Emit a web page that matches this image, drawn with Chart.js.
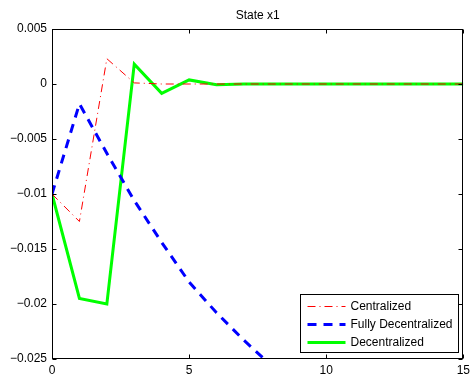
<!DOCTYPE html>
<html>
<head>
<meta charset="utf-8">
<script src="https://cdn.jsdelivr.net/npm/chart.js@4.4.1/dist/chart.umd.min.js"></script>
<style>
  html, body { margin: 0; padding: 0; background: #fff; }
  #wrap { width: 474px; height: 379px; }
</style>
</head>
<body>
<div id="wrap"><canvas id="stateChart" width="474" height="379"></canvas></div>
<script>
// values
var steps = [0, 1, 2, 3, 4, 5, 6, 7, 8, 9, 10, 11, 12, 13, 14, 15];
var centralized = [-0.0100, -0.0125, 0.0023, 0.0001, 0, 0, 0, 0, 0, 0, 0, 0, 0, 0, 0, 0];
var fullyDecentralized = [-0.0100, -0.0018, -0.0063, -0.0106, -0.0144, -0.0180, -0.0208, -0.0233, -0.0256];
var decentralized = [-0.0100, -0.0195, -0.0200, 0.0018, -0.00085, 0.00037, -0.00006, 0.00001, 0, 0, 0, 0, 0, 0, 0, 0];

var xTicks = [0, 5, 10, 15];
var xTickLabels = ['0', '5', '10', '15'];
var yTicks = [0.005, 0, -0.005, -0.01, -0.015, -0.02, -0.025];
var yTickLabels = ['0.005', '0', '\u22120.005', '\u22120.01', '\u22120.015', '\u22120.02', '\u22120.025'];

var FONT = "'Liberation Sans', Arial, Helvetica, sans-serif";

// axes box, inward ticks and legend in the lower right corner
var matlabAxes = {
    id: 'matlabAxes',
    afterDatasetsDraw: function(chart) {
        var ctx = chart.ctx, a = chart.chartArea;
        var xs = chart.scales.x, ys = chart.scales.y;
        var L = Math.round(a.left) + 0.5, R = Math.round(a.right) - 0.5;
        var T = Math.round(a.top) + 0.5, B = Math.round(a.bottom) - 0.5;
        ctx.save();
        ctx.strokeStyle = '#000';
        ctx.lineWidth = 1;
        ctx.strokeRect(L, T, R - L, B - T);
        ctx.beginPath();
        xTicks.forEach(function(v) {
            var px = Math.round(xs.getPixelForValue(v)) + 0.5;
            ctx.moveTo(px, B); ctx.lineTo(px, B - 4);
            ctx.moveTo(px, T); ctx.lineTo(px, T + 4);
        });
        yTicks.forEach(function(v) {
            var py = Math.round(ys.getPixelForValue(v)) + 0.5;
            ctx.moveTo(L, py); ctx.lineTo(L + 4, py);
            ctx.moveTo(R, py); ctx.lineTo(R - 4, py);
        });
        ctx.stroke();

        // legend
        var sets = chart.data.datasets;
        ctx.font = '12px ' + FONT;
        var maxW = 0;
        sets.forEach(function(d) { maxW = Math.max(maxW, ctx.measureText(d.label).width); });
        var rowH = 18, sample = 38;
        var boxW = Math.round(7 + sample + 5 + maxW + 6);
        var boxH = rowH * sets.length + 4;
        var bx = Math.round(a.right - 5 - boxW) + 0.5;
        var by = Math.round(a.bottom - 7 - boxH) + 0.5;
        ctx.fillStyle = '#fff';
        ctx.fillRect(bx, by, boxW, boxH);
        ctx.strokeStyle = '#000';
        ctx.setLineDash([]);
        ctx.strokeRect(bx, by, boxW, boxH);
        sets.forEach(function(d, i) {
            var cy = Math.round(by + 11 + i * rowH) + 0.5;
            ctx.beginPath();
            ctx.strokeStyle = d.borderColor;
            ctx.lineWidth = d.borderWidth;
            ctx.setLineDash(d.borderDash || []);
            ctx.moveTo(bx + 7, cy);
            ctx.lineTo(bx + 7 + sample, cy);
            ctx.stroke();
            ctx.setLineDash([]);
            ctx.fillStyle = '#000';
            ctx.textBaseline = 'middle';
            ctx.textAlign = 'left';
            ctx.fillText(d.label, bx + 7 + sample + 5, cy);
        });
        ctx.restore();
    }
};

var ctx = document.getElementById('stateChart').getContext('2d');
var stateChart = new Chart(ctx, {
    type: 'line',
    data: {
        labels: steps,
        datasets: [{
            label: 'Centralized',
            data: centralized,
            borderColor: 'rgb(255,0,0)',
            borderWidth: 1,
            borderDash: [8, 4, 1, 4]
        }, {
            label: 'Fully Decentralized',
            data: fullyDecentralized,
            borderColor: 'rgb(0,0,255)',
            borderWidth: 3,
            borderDash: [9, 7]
        }, {
            label: 'Decentralized',
            data: decentralized,
            borderColor: 'rgb(0,255,0)',
            borderWidth: 3
        }]
    },
    options: {
        responsive: false,
        animation: false,
        elements: {
            point: { radius: 0 },
            line: { tension: 0, fill: false, borderJoinStyle: 'miter' }
        },
        layout: { padding: { left: 0, right: 7, top: 0, bottom: 0 } },
        scales: {
            x: {
                type: 'linear',
                min: 0,
                max: 15,
                afterBuildTicks: function(s) { s.ticks = xTicks.map(function(v) { return { value: v }; }); },
                afterFit: function(s) { s.height = 20; },
                grid: { display: false, drawTicks: false },
                border: { display: false },
                ticks: {
                    padding: 4,
                    maxRotation: 0,
                    autoSkip: false,
                    color: '#000',
                    font: { family: FONT, size: 12 },
                    callback: function(v) { return xTickLabels[xTicks.indexOf(v)]; }
                }
            },
            y: {
                min: -0.025,
                max: 0.005,
                afterBuildTicks: function(s) { s.ticks = yTicks.map(function(v) { return { value: v }; }); },
                afterFit: function(s) { s.width = 52; },
                grid: { display: false, drawTicks: false },
                border: { display: false },
                ticks: {
                    padding: 5,
                    autoSkip: false,
                    color: '#000',
                    font: { family: FONT, size: 12 },
                    callback: function(v) { return yTickLabels[yTicks.indexOf(v)]; }
                }
            }
        },
        plugins: {
            legend: { display: false },
            tooltip: { enabled: false },
            title: {
                display: true,
                text: 'State x1',
                fullSize: false,
                color: '#000',
                font: { family: FONT, size: 12, weight: 'normal' },
                padding: { top: 8, bottom: 6.6 }
            }
        }
    },
    plugins: [matlabAxes]
});
</script>
</body>
</html>
